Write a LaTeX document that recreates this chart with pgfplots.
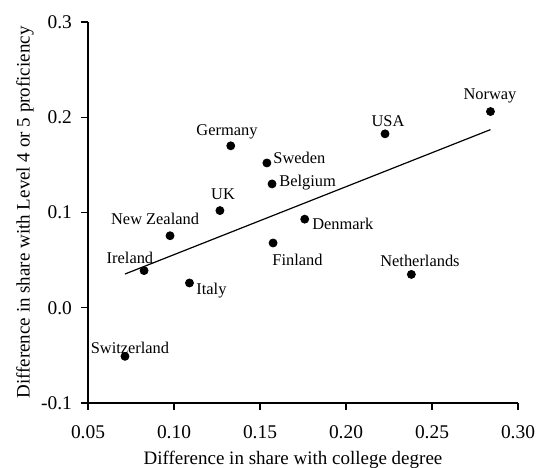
\documentclass[border=0pt]{standalone}
\usepackage{pgfplots}
\pgfplotsset{compat=1.18}
\usepackage{fontspec}
\setmainfont{Liberation Serif}
\begin{document}
\begin{tikzpicture}
\begin{axis}[
 scale only axis, width=215pt, height=190.5pt,
 xmin=0.05, xmax=0.30, ymin=-0.1, ymax=0.3,
 axis lines*=left, axis line style={line width=0.7pt},
 xtick={0.05,0.10,0.15,0.20,0.25,0.30},
 xticklabels={0.05,0.10,0.15,0.20,0.25,0.30},
 ytick={-0.1,0,0.1,0.2,0.3},
 yticklabels={-0.1,0.0,0.1,0.2,0.3},
 tick align=outside, major tick length=3.5pt,
 tick style={line width=0.7pt, black},
 ticklabel style={font=\fontsize{9.7}{11}\selectfont},
 xticklabel style={yshift=-4.5pt},
 yticklabel style={xshift=-1pt},
 xlabel={Difference in share with college degree},
 ylabel={Difference in share with Level 4 or 5 proficiency},
 label style={font=\fontsize{9.5}{11}\selectfont},
 xlabel style={at={(axis description cs:0.4767,-0.1496)}, anchor=center},
 ylabel style={at={(axis description cs:-0.1465,0.5)}, anchor=center},
 clip=false,
]
\addplot[black, line width=0.6pt] coordinates {(0.0715,0.0354) (0.284,0.187)};
\addplot[only marks, mark=*, mark size=2pt, black] coordinates {
(0.284,0.206) (0.2227,0.1826) (0.154,0.152) (0.157,0.130) (0.133,0.170)
(0.1267,0.102) (0.0977,0.0756) (0.0826,0.039) (0.109,0.026) (0.176,0.093)
(0.1576,0.068) (0.238,0.035) (0.0715,-0.051)};
\begin{scope}[every node/.style={font=\fontsize{8.2}{10}\selectfont, inner sep=0pt}]
\node[anchor=center] at (axis cs:0.2837,0.2225) {Norway};
\node[anchor=center] at (axis cs:0.2244,0.1962) {USA};
\node[anchor=west] at (axis cs:0.1576,0.1574) {Sweden};
\node[anchor=west] at (axis cs:0.1610,0.1312) {Belgium};
\node[anchor=west] at (axis cs:0.1802,0.0881) {Denmark};
\node[anchor=west] at (axis cs:0.1570,0.0504) {Finland};
\node[anchor=center] at (axis cs:0.2430,0.0493) {Netherlands};
\node[anchor=center] at (axis cs:0.1308,0.1847) {Germany};
\node[anchor=center] at (axis cs:0.1285,0.1196) {UK};
\node[anchor=center] at (axis cs:0.0890,0.0934) {New Zealand};
\node[anchor=center] at (axis cs:0.0744,0.0525) {Ireland};
\node[anchor=west] at (axis cs:0.1128,0.0178) {Italy};
\node[anchor=center] at (axis cs:0.0744,-0.0420) {Switzerland};
\end{scope}
\coordinate (ll) at (rel axis cs:0,0);
\coordinate (ur) at (rel axis cs:1,1);
\end{axis}
\pgfresetboundingbox
\path[use as bounding box] ([shift={(-44pt,-32.5pt)}]ll) rectangle ([shift={(10.5pt,11pt)}]ur);
\end{tikzpicture}
\end{document}
